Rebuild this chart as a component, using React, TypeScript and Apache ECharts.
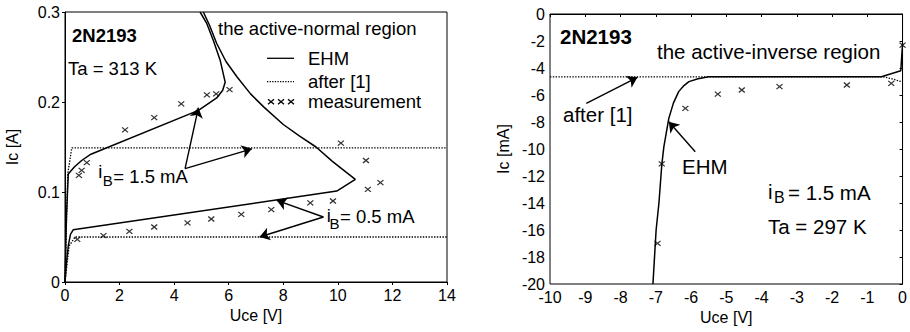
import React, { useEffect, useRef } from "react";
import * as echarts from "echarts";

const FONT = "'Liberation Sans', Arial, Helvetica, sans-serif";

// ---------- Left panel: active-normal region (Uce [V], Ic [A]) ----------
const normalEhm15: [number, number][] = [
  [0, 0], [0.05, 0.07], [0.12, 0.12], [0.35, 0.128], [0.61, 0.135], [0.95, 0.142],
  [4.89, 0.1907], [5.56, 0.2045], [5.78, 0.213], [5.87, 0.222], [5.69, 0.246],
  [5.44, 0.268], [5.2, 0.287], [4.95, 0.3],
];
const normalEhm05: [number, number][] = [
  [0, 0], [0.05, 0.02], [0.12, 0.04], [0.2, 0.053], [0.3, 0.058], [9.96, 0.101],
  [10.64, 0.114], [10.3, 0.122], [9.8, 0.134], [9.2, 0.15], [8.6, 0.162], [8.0, 0.175],
  [7.3, 0.194], [6.8, 0.209], [6.3, 0.228], [5.9, 0.245], [5.56, 0.265], [5.3, 0.285], [5.07, 0.3],
];
const normalAfter15: [number, number][] = [[0, 0], [0.1, 0.12], [0.25, 0.149], [14, 0.149]];
const normalAfter05: [number, number][] = [[0, 0], [0.15, 0.04], [0.37, 0.05], [14, 0.05]];
const normalMeas: [number, number][] = [
  [0.51, 0.1185], [0.61, 0.124], [0.8, 0.1326], [2.2, 0.169], [3.27, 0.1826], [4.26, 0.198],
  [5.2, 0.208], [5.54, 0.209], [6.03, 0.2137], [10.11, 0.1544], [11.03, 0.135], [11.1, 0.103],
  [11.56, 0.1104],
  [0.45, 0.0474], [1.41, 0.0515], [2.36, 0.0563], [3.27, 0.0611], [4.49, 0.0656], [5.36, 0.07],
  [6.46, 0.0752], [7.56, 0.0804], [8.99, 0.0878], [9.82, 0.09],
];
const normalArrows: [number, number][][] = [
  [[4.4, 0.126], [4.89, 0.1937]],
  [[4.4, 0.126], [6.85, 0.148]],
  [[9.47, 0.0722], [7.76, 0.0907]],
  [[9.47, 0.0722], [7.13, 0.05]],
];

// ---------- Right panel: active-inverse region (Uce [V], Ic [mA]) ----------
const inverseEhm: [number, number][] = [
  [-7.08, -20], [-6.99, -16], [-6.91, -14], [-6.83, -11.2], [-6.77, -9.83], [-6.63, -7.73],
  [-6.5, -6.6], [-6.35, -5.75], [-6.2, -5.3], [-6.06, -5.01], [-5.8, -4.8], [-5.5, -4.65],
  [-0.6, -4.65], [-0.05, -4.2], [0, -2.2],
];
const inverseAfter: [number, number][] = [[-10, -4.65], [-0.55, -4.65], [-0.3, -4.8], [-0.05, -5.0]];
const inverseMeas: [number, number][] = [
  [0, -2.3], [-0.32, -5.14], [-1.58, -5.26], [-3.49, -5.38], [-4.56, -5.63], [-5.24, -5.93],
  [-6.16, -6.99], [-6.83, -11.1], [-6.95, -16.99],
];
const inverseArrows: [number, number][][] = [
  [[-8.97, -6.62], [-7.52, -4.69]],
  [[-5.88, -10.2], [-6.63, -7.98]],
];

const CROSS = "path://M0 0L10 10M10 0L0 10";

function axisCommon(name: string, gap: number) {
  return {
    type: "value" as const,
    axisLine: { show: true, lineStyle: { color: "#000", width: 1 } },
    axisTick: { show: true, inside: false, length: 3, lineStyle: { color: "#000", width: 1 } },
    axisLabel: { color: "#000", fontSize: 16, fontFamily: FONT, margin: 5 },
    splitLine: { show: false },
    name,
    nameLocation: "middle" as const,
    nameGap: gap,
    nameTextStyle: { color: "#000", fontSize: 16, fontFamily: FONT },
  };
}

function lineSeries(data: [number, number][], idx: number, dotted: boolean) {
  return {
    type: "line",
    xAxisIndex: idx,
    yAxisIndex: idx,
    data,
    showSymbol: false,
    symbol: "none",
    silent: true,
    lineStyle: { color: "#000", width: dotted ? 1.3 : 1.5, type: dotted ? [1.4, 1.4] : "solid" },
  };
}

function measSeries(data: [number, number][], idx: number) {
  return {
    type: "scatter",
    xAxisIndex: idx,
    yAxisIndex: idx,
    data,
    symbol: CROSS,
    symbolSize: [6, 5],
    silent: true,
    itemStyle: { color: "transparent", borderColor: "#000", borderWidth: 1.2 },
  };
}

function arrowSeries(arrows: [number, number][][], idx: number) {
  return {
    type: "line",
    xAxisIndex: idx,
    yAxisIndex: idx,
    data: [],
    silent: true,
    markLine: {
      silent: true,
      symbol: ["none", "arrow"],
      symbolSize: 10,
      label: { show: false },
      lineStyle: { color: "#000", width: 1.4, type: "solid" },
      emphasis: { disabled: true },
      data: arrows.map((a) => [{ coord: a[0] }, { coord: a[1] }]),
    },
  };
}

function txt(text: string, x: number, y: number, size: number, bold = false) {
  return {
    type: "text",
    x,
    y,
    silent: true,
    style: {
      text,
      fontSize: size,
      fontFamily: FONT,
      fontWeight: bold ? "bold" : "normal",
      fill: "#000",
      align: "left",
      verticalAlign: "middle",
    },
  };
}

function seg(x1: number, y1: number, x2: number, y2: number, dash?: number[]) {
  return {
    type: "line",
    silent: true,
    shape: { x1, y1, x2, y2 },
    style: { stroke: "#000", lineWidth: 1.3, lineDash: dash },
  };
}

function crossGlyph(cx: number, cy: number) {
  return [seg(cx - 3, cy - 2.5, cx + 3, cy + 2.5), seg(cx - 3, cy + 2.5, cx + 3, cy - 2.5)];
}

export default function App() {
  const ref = useRef<HTMLDivElement>(null);
  useEffect(() => {
    if (!ref.current) return;
    const chart = echarts.init(ref.current, undefined, { renderer: "svg" });
    const L = 18.5;
    const R = 20.5;
    const option: any = {
      animation: false,
      backgroundColor: "#fff",
      grid: [
        { left: 65, top: 12, width: 382, height: 270, show: true, borderColor: "#000", borderWidth: 1 },
        { left: 550, top: 14, width: 356, height: 270, show: true, borderColor: "#000", borderWidth: 1 },
      ],
      xAxis: [
        { ...axisCommon("Uce [V]", 25), gridIndex: 0, min: 0, max: 14, interval: 2 },
        { ...axisCommon("Uce [V]", 25), gridIndex: 1, min: -10, max: 0, interval: 1 },
      ],
      yAxis: [
        { ...axisCommon("Ic [A]", 45), gridIndex: 0, min: 0, max: 0.3, interval: 0.1 },
        { ...axisCommon("Ic [mA]", 39), gridIndex: 1, min: -20, max: 0, interval: 2 },
      ],
      series: [
        lineSeries(normalEhm15, 0, false),
        lineSeries(normalEhm05, 0, false),
        lineSeries(normalAfter15, 0, true),
        lineSeries(normalAfter05, 0, true),
        measSeries(normalMeas, 0),
        arrowSeries(normalArrows, 0),
        lineSeries(inverseEhm, 1, false),
        lineSeries(inverseAfter, 1, true),
        measSeries(inverseMeas, 1),
        arrowSeries(inverseArrows, 1),
      ],
      graphic: [
        // left panel texts
        txt("2N2193", 72, 35.3, L, true),
        txt("Ta = 313 K", 68, 68.6, L),
        txt("the active-normal region", 218, 28.6, L),
        seg(267, 58.3, 294, 58.3),
        txt("EHM", 308, 58.6, L),
        seg(267, 81.7, 294, 81.7, [1.3, 1.3]),
        txt("after [1]", 308, 81.6, L),
        ...crossGlyph(271, 101.7),
        ...crossGlyph(281, 101.7),
        ...crossGlyph(291, 101.7),
        txt("measurement", 308, 101.9, L),
        txt("i", 98.3, 171.9, L),
        txt("B", 102.7, 180.8, 15),
        txt("= 1.5 mA", 113.3, 176.3, L),
        txt("i", 326.7, 215.3, L),
        txt("B", 329.5, 223.1, 15),
        txt("= 0.5 mA", 340, 216.3, L),
        // right panel texts
        txt("2N2193", 560, 36.2, R, true),
        txt("the active-inverse region", 657, 51.2, R),
        txt("after [1]", 563, 114.4, R),
        txt("EHM", 682, 166.2, R),
        txt("i", 768, 191.2, R),
        txt("B", 774, 197.8, 16),
        txt("= 1.5 mA", 788, 192.9, R),
        txt("Ta = 297 K", 768, 226.2, R),
      ],
    };
    chart.setOption(option);
    return () => chart.dispose();
  }, []);
  return (
    <div
      ref={ref}
      style={{ position: "fixed", left: 0, top: 0, width: 910, height: 332, background: "#fff" }}
    />
  );
}
